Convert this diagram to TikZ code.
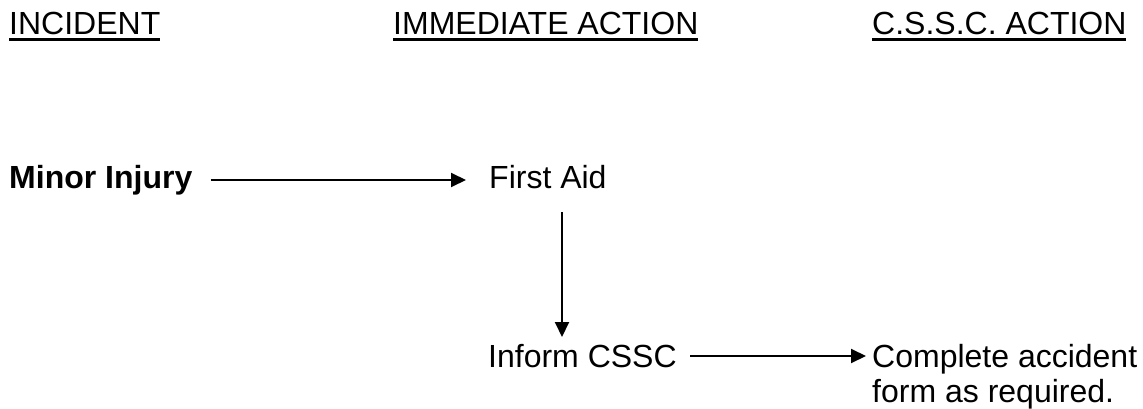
\documentclass[tikz,border=0pt]{standalone}
\usepackage{fontspec}
\setmainfont{Liberation Sans}
\usetikzlibrary{arrows.meta,calc}
% underline as the reference sets it
\newsavebox{\hdrbox}
\newcommand{\hdrul}[1]{\sbox{\hdrbox}{#1}\rlap{\rule[-5.75pt]{\wd\hdrbox}{2.5pt}}\usebox{\hdrbox}}

\begin{document}
\begin{tikzpicture}[x=1pt, y=-1pt, >={Triangle[length=15pt,width=14pt]},
    lbl/.style={inner sep=0pt, anchor=base west, font=\fontsize{32}{35}\selectfont},
    hdr/.style={lbl},
    flow/.style={->, line width=2pt}]
    \useasboundingbox (0,0) rectangle (1143,409);
    % Column headers
    \node[hdr] (incident) at (9,35) {\hdrul{INCIDENT}};
    \node[hdr] (immediate) at (393,35) {\hdrul{IMMEDIATE ACTION}};
    \node[hdr] (cssc) at (872,35) {\hdrul{C.S.S.C. ACTION}};
    % Incident and actions
    \node[lbl, font=\fontsize{32}{35}\selectfont\bfseries] (minor) at (9,188) {Minor Injury};
    \node[lbl] (firstaid) at (489,188) {First Aid};
    \node[lbl] (inform) at (488,367) {Inform CSSC};
    % base of a two-line node is its last line
    \node[lbl, align=left] (complete) at (872,402) {Complete accident\\form as required.};
    % Arrows
    \draw[flow] ($(minor.base east)+(18,-8)$) -- ($(firstaid.base west)+(-23,-8)$);
    \draw[flow] ($(firstaid.base west)+(73,24)$) -- ($(inform.base west)+(74,-30)$);
    \draw[flow] ($(inform.base east)+(13.5,-11)$) -- ($(complete.base west)+(-6,-46)$);
\end{tikzpicture}
\end{document}
